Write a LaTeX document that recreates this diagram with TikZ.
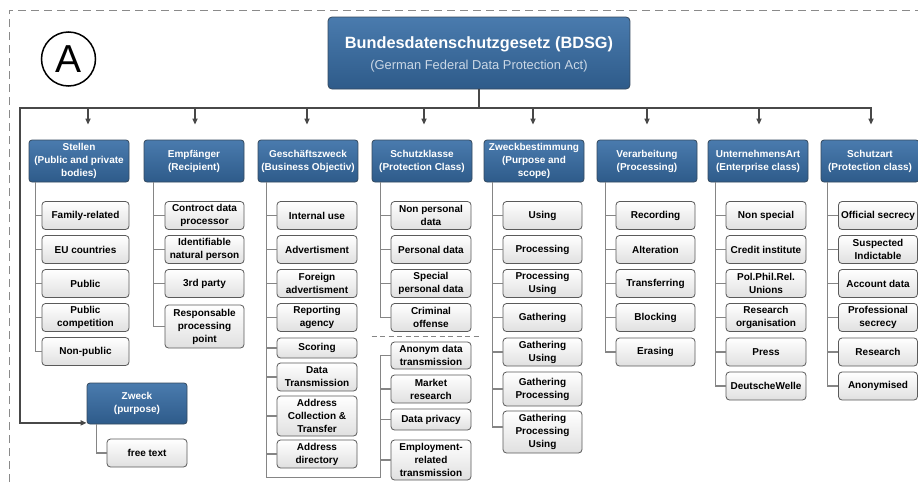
\documentclass[tikz,border=0pt]{standalone}
\usepackage{fontspec}
\setmainfont{Liberation Sans}
\usetikzlibrary{arrows.meta}

\definecolor{hdtop}{HTML}{4A7BAE}
\definecolor{hdbot}{HTML}{2E5B8A}
\definecolor{hdline}{HTML}{34495E}
\definecolor{leafbot}{HTML}{E0E0E0}
\definecolor{leafline}{HTML}{5A5A5A}
\definecolor{busgray}{HTML}{484848}
\definecolor{twiggray}{HTML}{858585}
\definecolor{framegray}{HTML}{8A8A8A}
\definecolor{subtle}{HTML}{CBD8E6}

\begin{document}
\begin{tikzpicture}[x=1pt,y=-1pt,
  hdbox/.style={draw=hdline, line width=0.8pt, rounded corners=3pt,
    top color=hdtop, bottom color=hdbot, text=white, align=center,
    inner sep=1pt, font=\fontsize{10}{13}\selectfont\bfseries,
    minimum width=100pt, minimum height=42pt},
  titlebox/.style={hdbox, rounded corners=4pt, minimum width=302pt, minimum height=72pt},
  leaf/.style={draw=leafline, line width=0.8pt, rounded corners=3.5pt,
    top color=white, bottom color=leafbot, text=black, align=center,
    inner sep=1pt, font=\fontsize{10}{13}\selectfont\bfseries,
    minimum width=80pt, minimum height=28pt},
  bus/.style={draw=busgray, line width=1.6pt},
  tip/.tip={Triangle[length=6pt,width=5pt]},
  drop/.style={bus, -tip},
  twig/.style={draw=twiggray, line width=1.1pt},
  divider/.style={draw=twiggray, line width=1pt, dash pattern=on 5pt off 3.5pt},
  frame/.style={draw=framegray, line width=1pt, dash pattern=on 8pt off 5pt},
]
\useasboundingbox (0,0) rectangle (918,482);
\fill[white] (0,0) rectangle (918,482);

% outer dashed frame
\draw[frame] (9,482) -- (9,10) -- (918,10);

% panel mark
\node[circle, draw, line width=1.5pt, minimum size=54pt, inner sep=0pt,
      font=\fontsize{39}{39}\selectfont] (mark) at (68.5,59) {A};

% root
\node[titlebox] (bdsg) at (479,53) {};
\node[anchor=base, text=white, font=\fontsize{16.3}{19}\selectfont\bfseries]
  (bdsgname) at (479,48) {Bundesdatenschutzgesetz (BDSG)};
\node[anchor=base, text=subtle, font=\fontsize{12.9}{15}\selectfont]
  (bdsgsub) at (479,69) {(German Federal Data Protection Act)};

% categories
\node[hdbox] (c1) at (79,161)  {Stellen\\(Public and private\\bodies)};
\node[hdbox] (c2) at (194,161) {Empfänger\\(Recipient)};
\node[hdbox] (c3) at (308,161) {Geschäftszweck\\(Business Objectiv)};
\node[hdbox] (c4) at (422,161) {Schutzklasse\\(Protection Class)};
\node[hdbox] (c5) at (534,161) {Zweckbestimmung\\(Purpose and\\scope)};
\node[hdbox] (c6) at (647,161) {Verarbeitung\\(Processing)};
\node[hdbox] (c7) at (758,161) {UnternehmensArt\\(Enterprise class)};
\node[hdbox, minimum width=98pt] (c8) at (870,161) {Schutzart\\(Protection class)};
\node[hdbox, minimum height=41pt] (zw) at (137,403.5) {Zweck\\(purpose)};

% Stellen
\begin{scope}[every node/.style={leaf, minimum width=87pt}]
\node (s1) at (85.5,215.5) {Family-related};
\node (s2) at (85.5,249.5) {EU countries};
\node (s3) at (85.5,283.5) {Public};
\node (s4) at (85.5,317.5) {Public\\competition};
\node (s5) at (85.5,351.5) {Non-public};
\end{scope}

% Empfänger
\begin{scope}[every node/.style={leaf, minimum width=79pt}]
\node (e1) at (204.5,215.5) {Controct data\\processor};
\node (e2) at (204.5,249.5) {Identifiable\\natural person};
\node (e3) at (204.5,283.5) {3rd party};
\node[minimum height=43pt] (e4) at (204.5,326.5) {Responsable\\processing\\point};
\end{scope}

% Geschäftszweck
\begin{scope}[every node/.style={leaf}]
\node (g1) at (317,215.5) {Internal use};
\node (g2) at (317,249.5) {Advertisment};
\node (g3) at (317,283.5) {Foreign\\advertisment};
\node (g4) at (317,317.5) {Reporting\\agency};
\node[minimum height=20pt] (g5) at (317,348) {Scoring};
\node (g6) at (317,377) {Data\\Transmission};
\node[minimum height=40pt] (g7) at (317,416) {Address\\Collection \&\\Transfer};
\node (g8) at (317,454) {Address\\directory};
\end{scope}

% Schutzklasse
\begin{scope}[every node/.style={leaf}]
\node (k1) at (431,215.5) {Non personal\\data};
\node (k2) at (431,249.5) {Personal data};
\node (k3) at (431,283.5) {Special\\personal data};
\node (k4) at (431,317.5) {Criminal\\offense};
\node[minimum height=27pt] (k5) at (431,355.5) {Anonym data\\transmission};
\node (k6) at (431,389) {Market\\research};
\node[minimum height=21pt] (k7) at (431,419.5) {Data privacy};
\node[minimum height=40pt] (k8) at (431,460) {Employment-\\related\\transmission};
\end{scope}

% Zweckbestimmung
\begin{scope}[every node/.style={leaf, minimum width=79pt}]
\node (z1) at (542.5,215.5) {Using};
\node (z2) at (542.5,249.5) {Processing};
\node (z3) at (542.5,283.5) {Processing\\Using};
\node (z4) at (542.5,317.5) {Gathering};
\node (z5) at (542.5,352) {Gathering\\Using};
\node[minimum height=34pt] (z6) at (542.5,389) {Gathering\\Processing};
\node[minimum height=42pt] (z7) at (542.5,432) {Gathering\\Processing\\Using};
\end{scope}

% Verarbeitung
\begin{scope}[every node/.style={leaf, minimum width=79pt}]
\node (v1) at (655.5,215.5) {Recording};
\node (v2) at (655.5,249.5) {Alteration};
\node (v3) at (655.5,283.5) {Transferring};
\node (v4) at (655.5,317.5) {Blocking};
\node (v5) at (655.5,352) {Erasing};
\end{scope}

% UnternehmensArt
\begin{scope}[every node/.style={leaf}]
\node (u1) at (766,215.5) {Non special};
\node (u2) at (766,249.5) {Credit institute};
\node (u3) at (766,283.5) {Pol.Phil.Rel.\\Unions};
\node (u4) at (766,317.5) {Research\\organisation};
\node (u5) at (766,352) {Press};
\node (u6) at (766,386) {DeutscheWelle};
\end{scope}

% Schutzart
\begin{scope}[every node/.style={leaf, minimum width=79pt}]
\node (a1) at (878,215.5) {Official secrecy};
\node (a2) at (878,249.5) {Suspected\\Indictable};
\node (a3) at (878,283.5) {Account data};
\node (a4) at (878,317.5) {Professional\\secrecy};
\node (a5) at (878,352) {Research};
\node (a6) at (878,386) {Anonymised};
\end{scope}

% Zweck
\node[leaf] (ft) at (147,453) {free text};

% distribution bus
\coordinate (barL) at (20,108);
\coordinate (d1) at ([xshift=9pt,yshift=15pt]c1.north);
\coordinate (d2) at ([xshift=1pt,yshift=15pt]c2.north);
\coordinate (d3) at ([xshift=-1pt,yshift=15pt]c3.north);
\coordinate (d4) at ([xshift=2pt,yshift=15pt]c4.north);
\coordinate (d5) at ([xshift=-1pt,yshift=15pt]c5.north);
\coordinate (d6) at ([yshift=15pt]c6.north);
\coordinate (d7) at ([xshift=1pt,yshift=15pt]c7.north);
\coordinate (d8) at ([xshift=1pt,yshift=15pt]c8.north);

\draw[bus] (bdsg.south) -- (bdsg.south |- barL);
\draw[bus, tip-tip] (d8) |- (barL) |- ([yshift=1.5pt]zw.south west);
\foreach \d in {d1,d2,d3,d4,d5,d6,d7}
  \draw[drop] (\d |- barL) -- (\d);

% branch lines
\coordinate (L1) at ([xshift=7pt]c1.south west);
\coordinate (L2) at ([xshift=10pt]c2.south west);
\coordinate (L3) at ([xshift=9pt]c3.south west);
\coordinate (L4) at ([xshift=9pt]c4.south west);
\coordinate (L5) at ([xshift=9pt]c5.south west);
\coordinate (L6) at ([xshift=9pt]c6.south west);
\coordinate (L7) at ([xshift=8pt]c7.south west);
\coordinate (L8) at ([xshift=7pt]c8.south west);
\coordinate (jn) at ([yshift=-9pt]g8.south -| L4);

\draw[twig] (L1) |- (s5.west);
\foreach \n in {s1,s2,s3,s4} \draw[twig] (L1 |- \n.west) -- (\n.west);

\draw[twig] (L2) |- (e4.west);
\foreach \n in {e1,e2,e3} \draw[twig] (L2 |- \n.west) -- (\n.west);

\draw[twig] (L3) |- (jn) |- (k5.west);
\foreach \n in {g1,g2,g3,g4,g5,g6,g7,g8} \draw[twig] (L3 |- \n.west) -- (\n.west);
\foreach \n in {k6,k7,k8} \draw[twig] (L4 |- \n.west) -- (\n.west);

\draw[twig] (L4) |- (k4.west);
\foreach \n in {k1,k2,k3} \draw[twig] (L4 |- \n.west) -- (\n.west);

\draw[twig] (L5) |- ([yshift=5pt]z7.west);
\foreach \n in {z1,z2,z3,z4,z5,z6} \draw[twig] (L5 |- \n.west) -- (\n.west);

\draw[twig] (L6) |- (v5.west);
\foreach \n in {v1,v2,v3,v4} \draw[twig] (L6 |- \n.west) -- (\n.west);

\draw[twig] (L7) |- (u6.west);
\foreach \n in {u1,u2,u3,u4,u5} \draw[twig] (L7 |- \n.west) -- (\n.west);

\draw[twig] (L8) |- (a6.west);
\foreach \n in {a1,a2,a3,a4,a5} \draw[twig] (L8 |- \n.west) -- (\n.west);

\draw[twig] ([xshift=10pt]zw.south west) |- (ft.west);

% separator between the two Schutzklasse groups
\draw[divider] ([yshift=-5pt]k4.south -| c4.west) -- ([xshift=8pt,yshift=-5pt]k4.south east);
\end{tikzpicture}
\end{document}
